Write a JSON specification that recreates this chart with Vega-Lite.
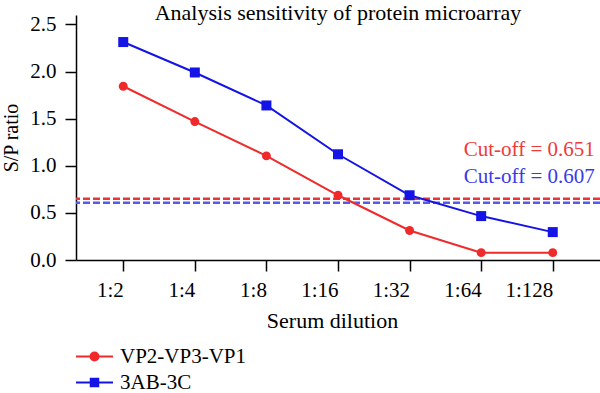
{
  "$schema": "https://vega.github.io/schema/vega-lite/v6.json",
  "width": 524,
  "height": 245,
  "autosize": "none",
  "padding": {"left": 76, "top": 15, "right": 0, "bottom": 133},
  "background": "white",
  "title": {
    "text": "Analysis sensitivity of protein microarray",
    "font": "Liberation Serif",
    "fontSize": 22,
    "fontWeight": "normal",
    "color": "black",
    "anchor": "middle",
    "offset": -12
  },
  "config": {
    "view": {"stroke": null},
    "font": "Liberation Serif",
    "axis": {
      "domainColor": "black",
      "domainWidth": 1.5,
      "tickColor": "black",
      "tickWidth": 1.5,
      "tickSize": 11,
      "grid": false,
      "labelFont": "Liberation Serif",
      "labelFontSize": 21,
      "labelColor": "black",
      "titleFont": "Liberation Serif",
      "titleFontSize": 22,
      "titleFontWeight": "normal",
      "titleColor": "black"
    }
  },
  "datasets": {
    "curves": [
      {"dilution": "1:2", "series": "VP2-VP3-VP1", "sp": 1.844},
      {"dilution": "1:4", "series": "VP2-VP3-VP1", "sp": 1.469},
      {"dilution": "1:8", "series": "VP2-VP3-VP1", "sp": 1.105},
      {"dilution": "1:16", "series": "VP2-VP3-VP1", "sp": 0.687},
      {"dilution": "1:32", "series": "VP2-VP3-VP1", "sp": 0.313},
      {"dilution": "1:64", "series": "VP2-VP3-VP1", "sp": 0.078},
      {"dilution": "1:128", "series": "VP2-VP3-VP1", "sp": 0.078},
      {"dilution": "1:2", "series": "3AB-3C", "sp": 2.313},
      {"dilution": "1:4", "series": "3AB-3C", "sp": 1.99},
      {"dilution": "1:8", "series": "3AB-3C", "sp": 1.64},
      {"dilution": "1:16", "series": "3AB-3C", "sp": 1.122},
      {"dilution": "1:32", "series": "3AB-3C", "sp": 0.687},
      {"dilution": "1:64", "series": "3AB-3C", "sp": 0.466},
      {"dilution": "1:128", "series": "3AB-3C", "sp": 0.296}
    ],
    "cutoffs": [
      {"series": "VP2-VP3-VP1", "cutoff": 0.651, "label": "Cut-off = 0.651"},
      {"series": "3AB-3C", "cutoff": 0.607, "label": "Cut-off = 0.607"}
    ]
  },
  "layer": [
    {
      "data": {"name": "cutoffs"},
      "transform": [{"filter": "datum.series === 'VP2-VP3-VP1'"}],
      "mark": {"type": "rule", "strokeDash": [7, 3], "strokeWidth": 2.5, "color": "#e8343a"},
      "encoding": {
        "y": {"field": "cutoff", "type": "quantitative", "scale": {"domain": [0, 2.5]}}
      }
    },
    {
      "data": {"name": "cutoffs"},
      "transform": [{"filter": "datum.series === '3AB-3C'"}],
      "mark": {"type": "rule", "strokeDash": [7, 3], "strokeWidth": 2.5, "color": "#5858ea"},
      "encoding": {
        "y": {"field": "cutoff", "type": "quantitative"}
      }
    },
    {
      "data": {"name": "cutoffs"},
      "transform": [{"filter": "datum.series === 'VP2-VP3-VP1'"}],
      "mark": {"type": "text", "align": "right", "baseline": "middle", "dx": 42, "dy": -49, "fontSize": 21, "font": "Liberation Serif", "color": "#ef3a3a"},
      "encoding": {
        "x": {"datum": "1:128", "type": "ordinal"},
        "y": {"field": "cutoff", "type": "quantitative"},
        "text": {"field": "label"}
      }
    },
    {
      "data": {"name": "cutoffs"},
      "transform": [{"filter": "datum.series === '3AB-3C'"}],
      "mark": {"type": "text", "align": "right", "baseline": "middle", "dx": 42, "dy": -26, "fontSize": 21, "font": "Liberation Serif", "color": "#3a3ae8"},
      "encoding": {
        "x": {"datum": "1:128", "type": "ordinal"},
        "y": {"field": "cutoff", "type": "quantitative"},
        "text": {"field": "label"}
      }
    },
    {
      "data": {"name": "curves"},
      "mark": {"type": "line", "strokeWidth": 2},
      "encoding": {
        "x": {
          "field": "dilution",
          "type": "ordinal",
          "sort": ["1:2", "1:4", "1:8", "1:16", "1:32", "1:64", "1:128"],
          "scale": {"type": "point", "padding": 0.66},
          "axis": {"title": "Serum dilution", "labelAngle": 0, "labelPadding": 19, "titlePadding": 10, "titleX": 256}
        },
        "y": {
          "field": "sp",
          "type": "quantitative",
          "scale": {"domain": [0, 2.5]},
          "axis": {"title": "S/P ratio", "titleFontSize": 20, "values": [0, 0.5, 1, 1.5, 2, 2.5], "format": ".1f", "labelPadding": 9, "titlePadding": 8}
        },
        "color": {
          "field": "series",
          "type": "nominal",
          "scale": {"domain": ["VP2-VP3-VP1", "3AB-3C"], "range": ["#f02a2a", "#1414e6"]},
          "legend": {
            "title": null,
            "orient": "none",
            "legendX": 8,
            "legendY": 331,
            "padding": 0,
            "symbolSize": 100,
            "symbolStrokeWidth": 2,
            "labelOffset": 15,
            "labelFontSize": 21,
            "labelFont": "Liberation Serif",
            "labelColor": "black",
            "rowPadding": 4,
            "encode": {
              "symbols": {
                "update": {
                  "shape": {"signal": "datum.value === '3AB-3C' ? 'M-3.7,0H3.7M-0.75,-0.75H0.75V0.75H-0.75Z' : 'M-3.7,0H3.7M-0.8,0A0.8,0.8 0 1 0 0.8,0A0.8,0.8 0 1 0 -0.8,0Z'"},
                  "fill": {"scale": "color", "field": "value"},
                  "stroke": {"scale": "color", "field": "value"},
                  "opacity": {"value": 1}
                }
              }
            }
          }
        }
      }
    },
    {
      "data": {"name": "curves"},
      "transform": [{"filter": "datum.series === 'VP2-VP3-VP1'"}],
      "mark": {"type": "point", "shape": "circle", "size": 80, "filled": true, "opacity": 1},
      "encoding": {
        "x": {"field": "dilution", "type": "ordinal", "sort": ["1:2", "1:4", "1:8", "1:16", "1:32", "1:64", "1:128"]},
        "y": {"field": "sp", "type": "quantitative"},
        "color": {"field": "series", "type": "nominal"}
      }
    },
    {
      "data": {"name": "curves"},
      "transform": [{"filter": "datum.series === '3AB-3C'"}],
      "mark": {"type": "point", "shape": "square", "size": 100, "filled": true, "opacity": 1},
      "encoding": {
        "x": {"field": "dilution", "type": "ordinal", "sort": ["1:2", "1:4", "1:8", "1:16", "1:32", "1:64", "1:128"]},
        "y": {"field": "sp", "type": "quantitative"},
        "color": {"field": "series", "type": "nominal"}
      }
    }
  ]
}
